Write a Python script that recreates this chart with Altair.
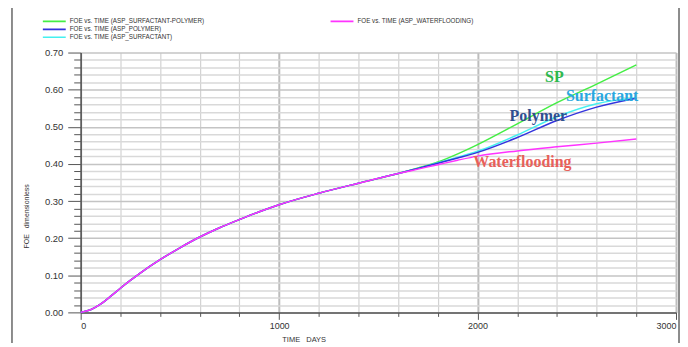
import altair as alt
import pandas as pd

# ---- data ----
time = [0, 50, 100, 150, 200, 250, 300, 400, 500, 600, 700, 800, 900, 1000, 1200, 1400, 1600,
        1700, 1800, 1900, 2000, 2200, 2400, 2600, 2800]
water = [0.000, 0.007, 0.022, 0.043, 0.065, 0.086, 0.106, 0.142, 0.174, 0.203, 0.228,
         0.250, 0.271, 0.290, 0.321, 0.348, 0.374, 0.386, 0.398, 0.410, 0.421, 0.435,
         0.446, 0.456, 0.467]
sp = water[:17] + [0.389, 0.405, 0.427, 0.452, 0.508, 0.565, 0.615, 0.667]
surf = water[:17] + [0.388, 0.403, 0.418, 0.434, 0.478, 0.527, 0.562, 0.578]
poly = water[:17] + [0.388, 0.402, 0.416, 0.431, 0.471, 0.517, 0.553, 0.577]

lab_sp = "FOE vs. TIME (ASP_SURFACTANT-POLYMER)"
lab_poly = "FOE vs. TIME (ASP_POLYMER)"
lab_surf = "FOE vs. TIME (ASP_SURFACTANT)"
lab_water = "FOE vs. TIME (ASP_WATERFLOODING)"

ann_text = ["SP", "Surfactant", "Polymer", "Waterflooding"]
ann_t = [2387, 2628, 2306, 2226]
ann_v = [0.633, 0.584, 0.528, 0.405]
ann_color = ["#2db84d", "#29a8e0", "#2f4f8f", "#e8605a"]

x_ticks = [i * 200 for i in range(16)]
y_ticks = [round(i * 0.02, 2) for i in range(36)]

rows = []
for name, vals in [(lab_sp, sp), (lab_surf, surf), (lab_poly, poly)]:
    for t, v in zip(time, vals):
        rows.append({"t": t, "v": v, "s": name})
df3 = pd.DataFrame(rows)
dfw = pd.DataFrame({"t": time, "v": water, "s": lab_water})

FONT = "Liberation Sans"
major_y = "abs(datum.value*10 - round(datum.value*10)) < 0.001"
major_x = "datum.value % 1000 == 0"

x_enc = alt.X("t:Q", scale=alt.Scale(domain=[0, 3000], nice=False),
              axis=alt.Axis(values=x_ticks, tickCount=500, labelOverlap=False,
                            labelExpr=f"{major_x} ? format(datum.value, 'd') : ''",
                            tickSize={"condition": {"test": major_x, "value": 7}, "value": 4},
                            gridColor={"condition": {"test": major_x, "value": "#bdbdbd"}, "value": "#d2d2d2"},
                            gridWidth={"condition": {"test": major_x, "value": 2}, "value": 1.2},
                            title="TIME\u00a0\u00a0\u00a0DAYS", titleX=224, titleY=27,
                            titleBaseline="middle", titleFont=FONT, titleFontSize=7.5,
                            titleFontWeight="normal", titleColor="#333",
                            labelFont=FONT, labelFontSize=9, labelColor="#333",
                            labelPadding=2, domainColor="#555", domainWidth=1.5,
                            tickColor="#555", tickWidth=1))
y_enc = alt.Y("v:Q", scale=alt.Scale(domain=[0, 0.7], nice=False),
              axis=alt.Axis(values=y_ticks, tickCount=500, labelOverlap=False,
                            labelExpr=f"{major_y} ? format(datum.value, '.2f') : ''",
                            tickSize={"condition": {"test": major_y, "value": 13}, "value": 7},
                            gridColor={"condition": {"test": major_y, "value": "#c4c4c4"}, "value": "#d9d9d9"},
                            gridWidth=1.5,
                            title="FOE\u00a0\u00a0\u00a0dimensionless", titleX=-51, titleY=164,
                            titleFont=FONT, titleFontSize=7, titleFontWeight="normal",
                            titleColor="#333",
                            labelFont=FONT, labelFontSize=9.5, labelColor="#333",
                            labelPadding=5, domainColor="#555", domainWidth=1.5,
                            tickColor="#555", tickWidth=1))

leg_common = dict(orient="none", direction="vertical", symbolType="stroke",
                  symbolSize=529, symbolStrokeWidth=1.6, labelFontSize=6.3,
                  labelFont=FONT, labelColor="#333", clipHeight=8,
                  rowPadding=0, padding=0, labelOffset=3, labelLimit=400,
                  title=None)

lines3 = alt.Chart(df3).mark_line(strokeWidth=1.5, interpolate="monotone").encode(
    x=x_enc, y=y_enc,
    color=alt.Color("s:N", scale=alt.Scale(domain=[lab_sp, lab_poly, lab_surf],
                                           range=["#44ee44", "#3333dd", "#44f0f0"]),
                    legend=alt.Legend(legendX=-39, legendY=-35.3, **leg_common)),
    detail="s:N",
)
linew = alt.Chart(dfw).mark_line(strokeWidth=1.5, interpolate="monotone").encode(
    x="t:Q", y="v:Q",
    stroke=alt.Stroke("s:N", scale=alt.Scale(domain=[lab_water], range=["#ff33ff"]),
                      legend=alt.Legend(legendX=250, legendY=-35.3, **leg_common)),
)

texts = []
for txt, t, v, c in zip(ann_text, ann_t, ann_v, ann_color):
    d = pd.DataFrame({"t": [t], "v": [v], "txt": [txt]})
    texts.append(alt.Chart(d).mark_text(font="Liberation Serif", fontWeight="bold",
                                        fontSize=16, color=c, align="center",
                                        baseline="middle").encode(
        x="t:Q", y="v:Q", text="txt:N"))

frame_df = pd.DataFrame({"k": [0]})
frame = alt.layer(
    alt.Chart(frame_df).mark_rule(color="#666", strokeWidth=1.5).encode(
        x=alt.value(-69), y=alt.value(-47), y2=alt.value(300)),
    alt.Chart(frame_df).mark_rule(color="#666", strokeWidth=1.5).encode(
        x=alt.value(-69), x2=alt.value(601), y=alt.value(-47)),
    alt.Chart(frame_df).mark_rule(color="#666", strokeWidth=1.5).encode(
        x=alt.value(601), y=alt.value(-47), y2=alt.value(300)),
)

chart = alt.layer(lines3, linew, *texts, frame).resolve_scale(
    color="independent"
).properties(
    width=598, height=261, autosize="none",
    padding={"left": 73, "top": 44, "right": 4, "bottom": 30},
    background="white",
).configure_view(stroke=None)

chart.save("out.html", embed_options={"renderer": "svg", "actions": False})
